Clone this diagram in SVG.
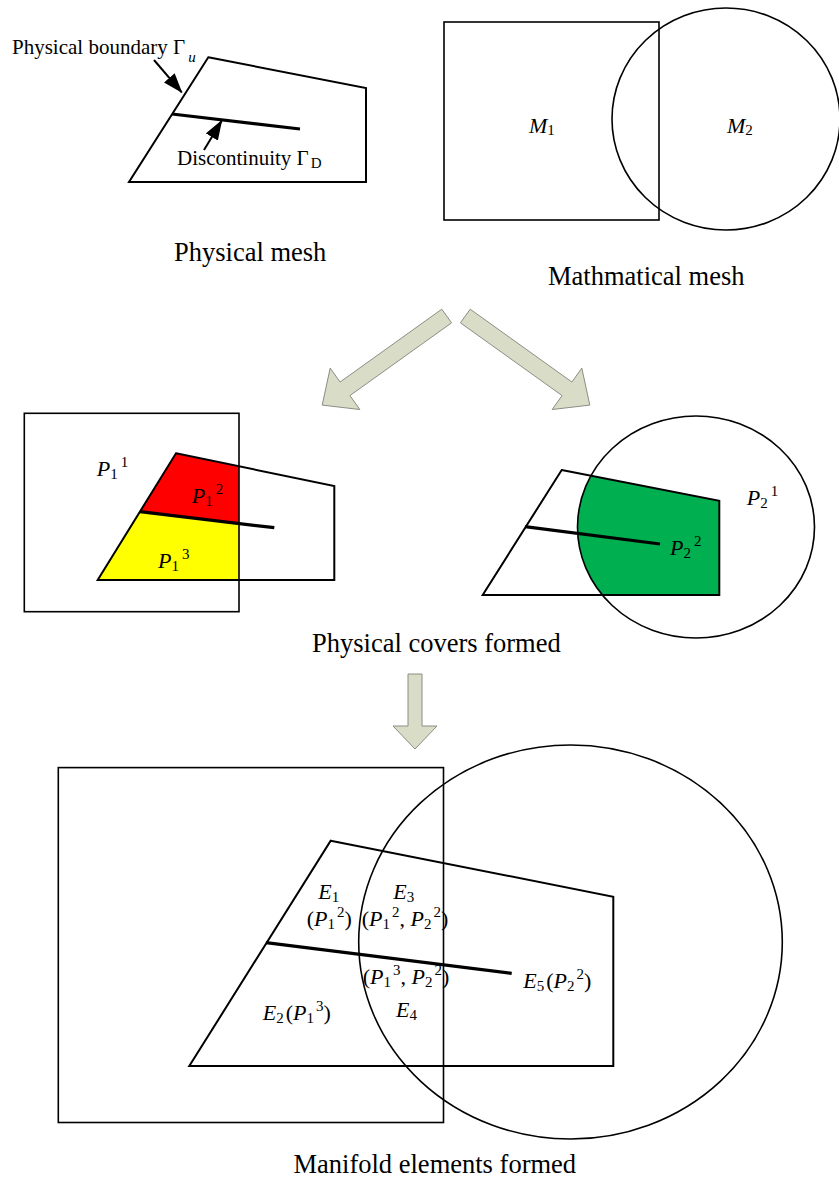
<svg xmlns="http://www.w3.org/2000/svg" width="839" height="1191" viewBox="0 0 839 1191">
<defs>
<style>
.t{font-family:"Liberation Serif","Times New Roman",serif;fill:#000}
.cap{font-size:26.5px}
.ann{font-size:21px}
.lbl{font-size:22px}
.i{font-style:italic}
.s{font-size:15px}
.ln{fill:none;stroke:#000;stroke-width:1.6}
.pg{fill:none;stroke:#000;stroke-width:2}
.disc{fill:none;stroke:#000;stroke-width:3.2;stroke-linecap:butt}
.big{fill:#d9ddc7;stroke:#8c8c84;stroke-width:1}
</style>
<marker id="ah" markerUnits="userSpaceOnUse" markerWidth="20" markerHeight="14" refX="19" refY="7" orient="auto">
<path d="M0,0 L20,7 L0,14 Z" fill="#000"/>
</marker>
</defs>
<rect width="839" height="1191" fill="#fff"/>

<!-- Physical mesh -->
<g id="physical-mesh">
<polygon class="pg" points="208.3,57.3 366,88 366,182 129,182"/>
<line class="disc" x1="172" y1="114" x2="300" y2="129"/>
<text class="t ann" x="12" y="54">Physical boundary Γ<tspan class="i s" y="62" dx="3">u</tspan></text>
<text class="t ann" x="177" y="165">Discontinuity Γ<tspan class="s" y="168" dx="2">D</tspan></text>
<text class="t cap" x="174" y="261">Physical mesh</text>
</g>

<!-- Mathematical mesh -->
<g id="math-mesh">
<rect class="ln" x="444" y="22" width="215" height="198"/>
<ellipse class="ln" cx="726" cy="119" rx="114" ry="111"/>
<text class="t" x="529" y="133" font-size="22"><tspan class="i">M</tspan><tspan class="s" y="135">1</tspan></text>
<text class="t" x="727" y="133" font-size="22"><tspan class="i">M</tspan><tspan class="s" y="135">2</tspan></text>
<text class="t cap" x="548" y="285">Mathmatical mesh</text>
</g>

<!-- Physical covers left -->
<g id="covers-left">
<path d="M176,453.3 L239,466.3 L239,523.5 L140,511.7 Z" fill="#ff0000"/>
<path d="M140,511.7 L239,523.5 L239,580 L97.7,580 Z" fill="#ffff00"/>
<rect class="ln" x="24.3" y="413.3" width="214.7" height="198.4"/>
<polygon class="pg" points="176,453.3 334.3,486 334.3,580 97.7,580"/>
<line class="disc" x1="140" y1="511.7" x2="274.3" y2="527.7"/>
<text class="t lbl" x="96.7" y="476"><tspan class="i">P</tspan><tspan class="s" y="479">1</tspan><tspan class="s" y="467" dx="3">1</tspan></text>
<text class="t lbl" x="191.7" y="503"><tspan class="i">P</tspan><tspan class="s" y="506">1</tspan><tspan class="s" y="494" dx="3">2</tspan></text>
<text class="t lbl" x="158" y="568"><tspan class="i">P</tspan><tspan class="s" y="571">1</tspan><tspan class="s" y="559" dx="3">3</tspan></text>
</g>

<!-- Physical covers right -->
<g id="covers-right">
<path d="M591,475.7 L719.3,500.7 L719.3,595 L602.4,595 A118.5 111 0 0 1 591,475.7 Z" fill="#00b050"/>
<ellipse class="ln" cx="696" cy="527" rx="118.5" ry="111"/>
<polygon class="pg" points="561.7,470 719.3,500.7 719.3,595 482.7,595"/>
<line class="disc" x1="525" y1="526.7" x2="660" y2="544"/>
<text class="t lbl" x="746.7" y="505"><tspan class="i">P</tspan><tspan class="s" y="508">2</tspan><tspan class="s" y="496" dx="3">1</tspan></text>
<text class="t lbl" x="670" y="555"><tspan class="i">P</tspan><tspan class="s" y="558">2</tspan><tspan class="s" y="546" dx="3">2</tspan></text>
</g>

<text class="t cap" x="312" y="652">Physical covers formed</text>

<!-- Manifold elements -->
<g id="manifold">
<rect class="ln" x="58.3" y="767.6" width="385.2" height="354.9"/>
<ellipse class="ln" cx="570.5" cy="942" rx="211.8" ry="197"/>
<polygon class="pg" points="330.7,840.7 613.3,896.7 613.3,1066 189.3,1066"/>
<line class="disc" x1="266" y1="942.7" x2="511.7" y2="973.3"/>
<text class="t lbl" x="318.3" y="899"><tspan class="i">E</tspan><tspan class="s" y="902">1</tspan></text>
<text class="t lbl" x="306.7" y="926">(<tspan class="i">P</tspan><tspan class="s" y="929">1</tspan><tspan class="s" y="917" dx="2">2</tspan><tspan y="926">)</tspan></text>
<text class="t lbl" x="393.3" y="899"><tspan class="i">E</tspan><tspan class="s" y="902">3</tspan></text>
<text class="t lbl" x="361.7" y="926">(<tspan class="i">P</tspan><tspan class="s" y="929">1</tspan><tspan class="s" y="917" dx="2">2</tspan><tspan y="926">, </tspan><tspan class="i">P</tspan><tspan class="s" y="929">2</tspan><tspan class="s" y="917" dx="2">2</tspan><tspan y="926">)</tspan></text>
<text class="t lbl" x="362.7" y="984">(<tspan class="i">P</tspan><tspan class="s" y="987">1</tspan><tspan class="s" y="975" dx="2">3</tspan><tspan y="984">, </tspan><tspan class="i">P</tspan><tspan class="s" y="987">2</tspan><tspan class="s" y="975" dx="2">2</tspan><tspan y="984">)</tspan></text>
<text class="t lbl" x="396" y="1016.7"><tspan class="i">E</tspan><tspan class="s" y="1020">4</tspan></text>
<text class="t lbl" x="262.7" y="1020"><tspan class="i">E</tspan><tspan class="s" y="1023">2</tspan><tspan y="1020" dx="2">(</tspan><tspan class="i">P</tspan><tspan class="s" y="1023">1</tspan><tspan class="s" y="1011" dx="2">3</tspan><tspan y="1020">)</tspan></text>
<text class="t lbl" x="523.3" y="988.3"><tspan class="i">E</tspan><tspan class="s" y="991.3">5</tspan><tspan y="988.3" dx="2">(</tspan><tspan class="i">P</tspan><tspan class="s" y="991.3">2</tspan><tspan class="s" y="979.3" dx="2">2</tspan><tspan y="988.3">)</tspan></text>
<text class="t cap" x="293.5" y="1173">Manifold elements formed</text>
</g>

<!-- Connectors -->
<g id="connectors">
<line x1="154" y1="60" x2="181.7" y2="92.3" stroke="#000" stroke-width="2" marker-end="url(#ah)"/>
<line x1="204" y1="150" x2="221.7" y2="120.7" stroke="#000" stroke-width="2" marker-end="url(#ah)"/>
<polygon class="big" points="441.8,309.2 451.6,322.8 349.9,395.6 359.8,409.5 322.2,405.1 330.2,368.1 340.1,382"/>
<polygon class="big" points="470.2,309.2 460.4,322.8 562.1,395.6 552.2,409.5 589.8,405.1 581.8,368.1 571.9,382"/>
<polygon class="big" points="408,674 422,674 422,726 437,726 415,749 393,726 408,726"/>
</g>
</svg>
